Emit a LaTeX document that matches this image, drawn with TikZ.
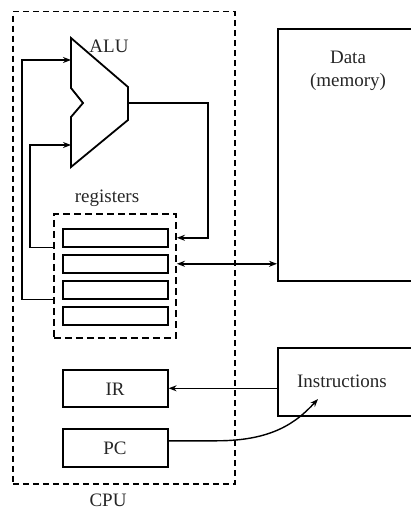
\documentclass[tikz,border=0pt]{standalone}
\usepackage{fontspec}
\setmainfont{Liberation Serif}
\usetikzlibrary{arrows.meta,calc}
\begin{document}
\begin{tikzpicture}[x=1pt,y=-1pt, font=\fontsize{19}{22}\selectfont,
  box/.style={draw, line width=1.6pt, inner sep=0pt, anchor=north west},
  dbox/.style={draw, line width=1.5pt, dash pattern=on 6pt off 4pt, inner sep=0pt, anchor=north west},
  wire/.style={line width=1.4pt},
  arr/.style={wire, -{Stealth[length=8pt,width=6pt]}},
  lbl/.style={inner sep=0pt, text=black!85}]
\useasboundingbox (0,0) rectangle (411,511);
% CPU frame
\node[dbox, minimum width=222pt, minimum height=472pt] (cpu) at (12,11) {};
\node[lbl] (cpulbl) at (108,500) {CPU};
% ALU
\draw[line width=1.8pt, line join=miter] (71,38) -- (128,87) -- (128,120) -- (71,167) -- (71,117) -- (83,103) -- (71,88) -- cycle;
\coordinate (in1) at (71,60);
\coordinate (in2) at (71,145);
\coordinate (aluout) at (128,103);
\node[lbl] (alulbl) at (109,46) {ALU};
% registers
\node[lbl] (reglbl) at (107,198) {registers};
\node[dbox, line width=1.9pt, dash pattern=on 7pt off 4pt, minimum width=122pt, minimum height=124pt] (regbox) at (53,213) {};
\node[box, minimum width=105pt, minimum height=18pt] (r1) at (62,228) {};
\node[box, minimum width=105pt, minimum height=18pt] (r2) at (62,254) {};
\node[box, minimum width=105pt, minimum height=18pt] (r3) at (62,280) {};
\node[box, minimum width=105pt, minimum height=18pt] (r4) at (62,306) {};
% IR, PC
\node[box, minimum width=105pt, minimum height=37pt] (ir) at (62,369) {};
\node[lbl] (irlbl) at (115,389) {IR};
\node[box, minimum width=105pt, minimum height=38pt] (pc) at (62,428) {};
\node[lbl] (pclbl) at (115,448) {PC};
% memory
\node[box, minimum width=150pt, minimum height=252pt] (data) at (277,28) {};
\node[lbl] (datalbl) at (348,57) {Data};
\node[lbl] (memlbl) at (348,82) {(memory)};
\node[box, minimum width=150pt, minimum height=68pt] (instr) at (277,347) {};
\node[lbl] (instrlbl) at (342,381) {Instructions};
\coordinate (itip) at (318,399);
% wires
\draw[arr] (regbox.west |- r3.south) -- ++(-31,0) |- (in1);
\draw[arr] (regbox.west |- r1.south) -- ++(-23,0) |- (in2);
\draw[arr] (aluout) -- ++(80,0) |- (regbox.east |- r1);
\draw[wire, {Stealth[length=8pt,width=6pt]}-{Stealth[length=8pt,width=6pt]}] (regbox.east |- r2) -- (data.west |- r2);
\draw[arr] (instr.west |- ir) -- (ir.east);
\draw[arr] ($(pc.east)+(0,-7)$) -- ++(48,0) .. controls +(55,0) and +(-22,24) .. (itip);
\end{tikzpicture}
\end{document}
